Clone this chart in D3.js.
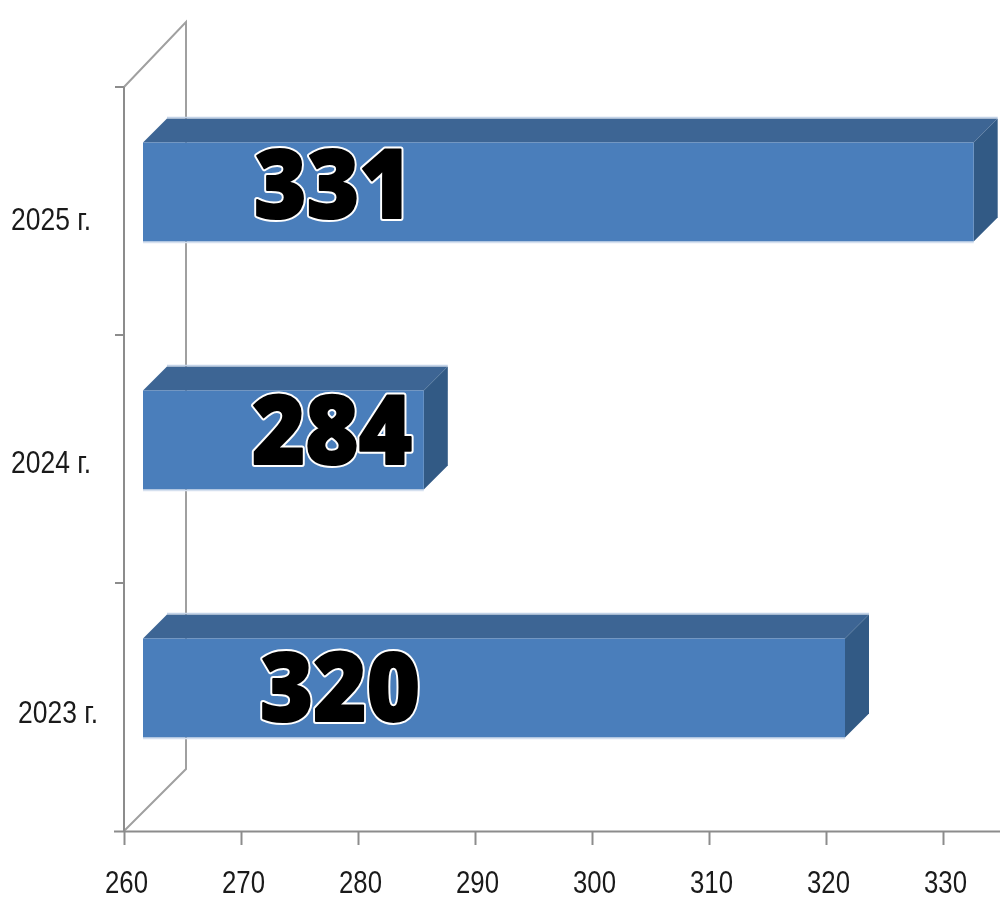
<!DOCTYPE html>
<html>
<head>
<meta charset="utf-8">
<script src="https://cdnjs.cloudflare.com/ajax/libs/d3/7.8.5/d3.min.js"></script>
<style>
html, body { margin: 0; padding: 0; background: #fff; }
svg { display: block; filter: blur(0.5px); }
.axis text { font-family: "Liberation Sans", sans-serif; fill: #1a1a1a; }
</style>
</head>
<body>
<svg width="1000" height="908"></svg>
<script>
// Values
var years  = ["2023 г.", "2024 г.", "2025 г."];
var values = [320, 284, 331];
var xTicks = [260, 270, 280, 290, 300, 310, 320, 330];

// Layout of the fake 3D box
var depthX = 24, depthY = 24;   // bar depth
var wallX = 62, wallYTop = 65, wallYBottom = 62;
var barShift = 19;              // bars sit in the middle of the box depth
var barHeight = 99;
var axisColour = "#8c8c8c";

var svg = d3.select("svg");
var x = d3.scaleLinear().domain([260, 340]).range([124, 1060]);
var y = d3.scaleBand().domain(years).range([831, 87]);

// Back wall lines, behind the bars
var left = x.range()[0], bottom = y.range()[0], top_ = y.range()[1];
svg.append("path")
  .attr("d", "M" + left + "," + bottom + "L" + (left + wallX) + "," + (bottom - wallYBottom) +
             "L" + (left + wallX) + "," + (top_ - wallYTop) + "L" + left + "," + top_)
  .attr("fill", "none").attr("stroke", "#a0a0a0").attr("stroke-width", 2);

// x axis
var xAxis = d3.axisBottom(x).tickValues(xTicks).tickSize(14).tickPadding(26);
var gx = svg.append("g").attr("class", "axis").attr("transform", "translate(0," + bottom + ")").call(xAxis);
gx.select(".domain").attr("stroke", axisColour).attr("stroke-width", 2).attr("d", "M114,0.5H1000");
gx.selectAll(".tick line").attr("stroke", axisColour).attr("stroke-width", 2);
gx.selectAll(".tick text").attr("font-size", 31).attr("font-family", null)
  .attr("dx", 2).attr("textLength", 43).attr("lengthAdjust", "spacingAndGlyphs");

// y axis: labels in the band middle, ticks on the band edges
var yAxis = d3.axisLeft(y).tickSize(0).tickPadding(26);
var gy = svg.append("g").attr("class", "axis").attr("transform", "translate(" + left + ",0)").call(yAxis);
gy.select(".domain").attr("stroke", axisColour).attr("stroke-width", 2).attr("d", "M0," + top_ + "V" + bottom);
gy.selectAll(".tick text").attr("font-size", 31).attr("font-family", null)
  .attr("textLength", 80).attr("lengthAdjust", "spacingAndGlyphs")
  .attr("dx", function(d, i) { return [0, -7, -7][i]; })
  .attr("dy", function(d, i) { return ["0.53em", "0.46em", "0.6em"][i]; });
gy.selectAll("line.edge")
  .data(years.map(function(d) { return y(d); }).concat([top_]))
  .enter().append("line").attr("class", "edge")
  .attr("x1", -9).attr("x2", 0)
  .attr("y1", function(d) { return d; }).attr("y2", function(d) { return d; })
  .attr("stroke", axisColour).attr("stroke-width", 2);

// Bars: front, top and side faces
var bars = svg.selectAll("g.bar").data(years).enter().append("g").attr("class", "bar");

function barTop(i)  { return y(years[i]) + y.bandwidth() / 2 - barShift - barHeight / 2; }
function x0()       { return x(260) + barShift; }
function x1(i)      { return x(values[i]) + barShift; }

bars.append("path") // top
  .attr("d", function(d, i) {
    return "M" + x0() + "," + barTop(i) + "L" + (x0() + depthX) + "," + (barTop(i) - depthY) +
           "L" + (x1(i) + depthX) + "," + (barTop(i) - depthY) + "L" + x1(i) + "," + barTop(i) + "Z";
  })
  .attr("fill", "#3d6594");
bars.append("path") // side
  .attr("d", function(d, i) {
    return "M" + x1(i) + "," + barTop(i) + "L" + (x1(i) + depthX) + "," + (barTop(i) - depthY) +
           "L" + (x1(i) + depthX) + "," + (barTop(i) - depthY + barHeight) +
           "L" + x1(i) + "," + (barTop(i) + barHeight) + "Z";
  })
  .attr("fill", "#325a85");
bars.append("rect") // front
  .attr("x", x0())
  .attr("y", function(d, i) { return barTop(i); })
  .attr("width", function(d, i) { return x1(i) - x0(); })
  .attr("height", barHeight)
  .attr("fill", "#4a7ebb");
bars.append("line") // pale lower edge
  .attr("x1", x0()).attr("x2", function(d, i) { return x1(i); })
  .attr("y1", function(d, i) { return barTop(i) + barHeight + 1; })
  .attr("y2", function(d, i) { return barTop(i) + barHeight + 1; })
  .attr("stroke", "#d5e0ef").attr("stroke-width", 1.5);
bars.append("line") // pale upper edge
  .attr("x1", x0() + depthX).attr("x2", function(d, i) { return x1(i) + depthX; })
  .attr("y1", function(d, i) { return barTop(i) - depthY - 1; })
  .attr("y2", function(d, i) { return barTop(i) - depthY - 1; })
  .attr("stroke", "#c3d3e8").attr("stroke-width", 1.5);

// Big outlined value labels: white halo under a thickened black face
var labelCentreX = [340, 332, 333];
var labelNudgeY  = [33, 24, 26];
var labelWidth   = [160, 160, 158];

function valueLabel(strokeColour, strokeWidth) {
  bars.append("text")
    .attr("x", function(d, i) { return labelCentreX[i]; })
    .attr("y", function(d, i) { return barTop(i) + barHeight / 2 + labelNudgeY[i]; })
    .attr("text-anchor", "middle")
    .attr("font-family", "'Open Sans', 'Noto Sans', sans-serif")
    .attr("font-weight", 800)
    .attr("font-size", 96)
    .attr("textLength", function(d, i) { return labelWidth[i]; })
    .attr("lengthAdjust", "spacingAndGlyphs")
    .attr("fill", "#000")
    .attr("stroke", strokeColour)
    .attr("stroke-width", strokeWidth)
    .attr("stroke-linejoin", "round")
    .text(function(d, i) { return values[i]; });
}
valueLabel("#fff", 6);
valueLabel("#000", 2);
</script>
</body>
</html>
